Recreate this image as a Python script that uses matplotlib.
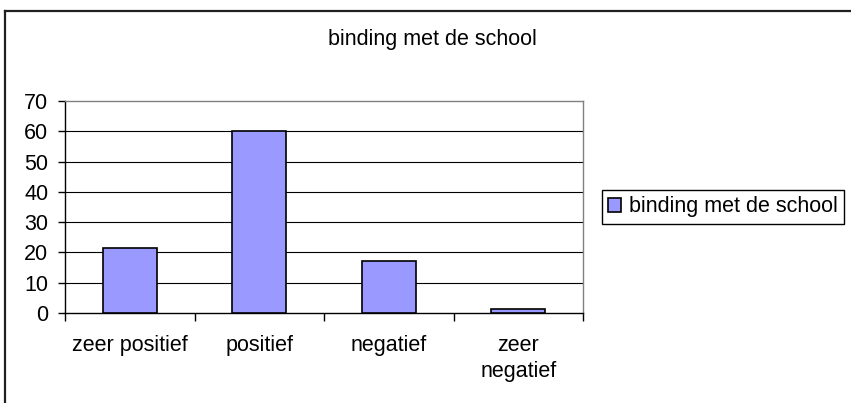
import numpy as np
import matplotlib.pyplot as plt
from matplotlib.lines import Line2D

plt.rcParams['font.family'] = ['Liberation Sans', 'DejaVu Sans']

categories = ['zeer positief', 'positief', 'negatief', 'zeer\nnegatief']
values = [21.5, 60, 17.2, 1.2]
series_name = 'binding met de school'
title = 'binding met de school'
yticks = [0, 10, 20, 30, 40, 50, 60, 70]

W, H = 851, 403
FS = 15.5
fig = plt.figure(figsize=(W / 100, H / 100), dpi=100)
ax = fig.add_axes([65 / W, 1 - 313 / H, (583 - 65) / W, (313 - 101) / H])

x = np.arange(len(categories))
ax.bar(x, values, width=0.42, color='#9999FF', edgecolor='black', linewidth=1.2,
       label=series_name, zorder=3)

ax.set_xlim(-0.5, len(categories) - 0.5)
ax.set_ylim(0, 70)
ax.set_yticks(yticks)
ax.set_yticklabels([str(t) for t in yticks], fontsize=FS)

# gridlines (excel style)
for t in yticks[1:-1]:
    ax.axhline(t, color='black', linewidth=0.8, zorder=1)

ax.spines['left'].set_color('black')
ax.spines['bottom'].set_color('black')
ax.spines['top'].set_color('#808080')
ax.spines['right'].set_color('#808080')
for s in ax.spines.values():
    s.set_linewidth(1.0)

# category ticks between bars
ax.set_xticks(np.arange(-0.5, len(categories), 1.0))
ax.set_xticklabels([])
ax.set_xticks(x, minor=True)
ax.set_xticklabels(categories, minor=True, fontsize=FS, linespacing=1.3)
ax.tick_params(axis='x', which='minor', length=0, pad=16)
ax.tick_params(axis='x', which='major', length=6, width=1, direction='out')
ax.tick_params(axis='y', length=5, width=1, direction='out', pad=7)

fig.text(432 / W, 1 - 40 / H, title, ha='center', va='center', fontsize=FS)

fig.legend(loc='center left', bbox_to_anchor=(602 / W, 1 - 207 / H), fontsize=FS,
           frameon=True, fancybox=False, edgecolor='black', framealpha=1,
           handlelength=0.6, handleheight=0.6, handletextpad=0.35,
           borderpad=0.3, borderaxespad=0)

# chart area frame (only left and top visible)
fig.add_artist(Line2D([5 / W, 5 / W], [0, 1 - 11 / H], color='#202020', linewidth=1.6))
fig.add_artist(Line2D([5 / W, 1], [1 - 11 / H, 1 - 11 / H], color='#202020', linewidth=1.6))

fig.savefig('out.png', dpi=100)
